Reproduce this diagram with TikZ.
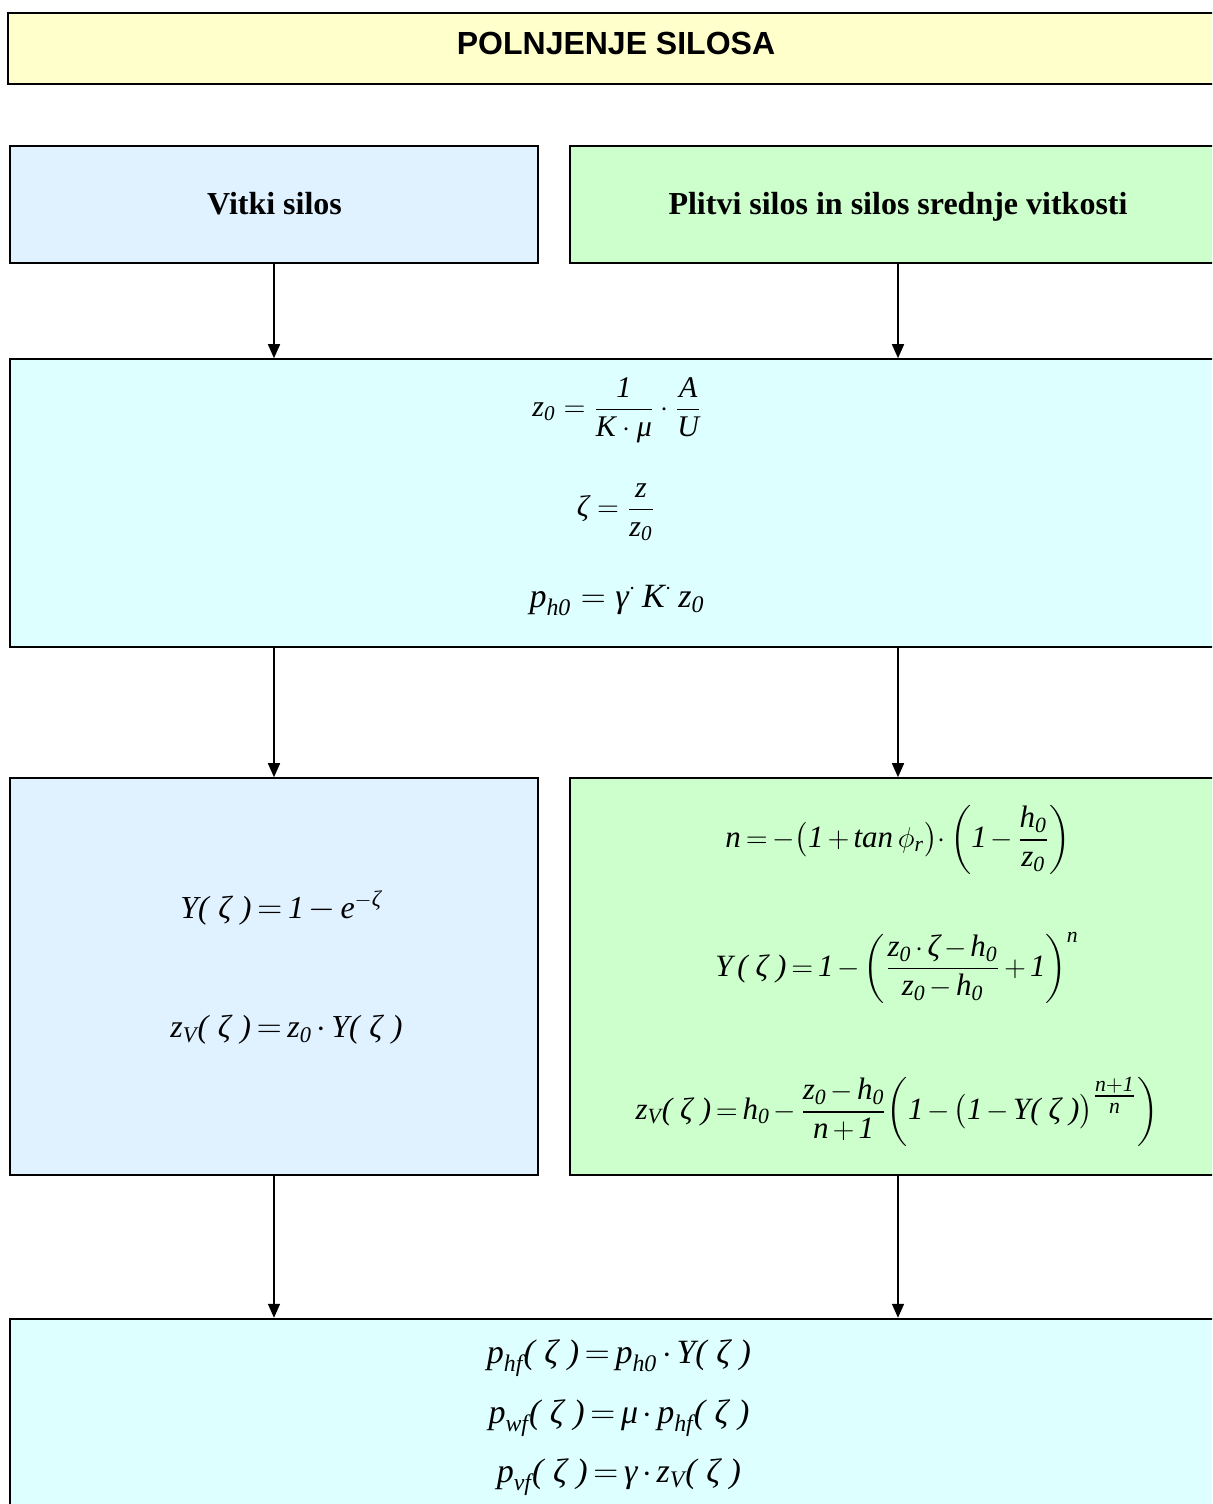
\documentclass[tikz,border=0pt]{standalone}
\usepackage{amsmath}
\usepackage{fontspec}
\setmainfont{Liberation Serif}
\newfontfamily\titlefont{Liberation Sans}
\usetikzlibrary{arrows.meta}
\definecolor{titlefill}{HTML}{FFFFCC}
\definecolor{bluefill}{HTML}{E0F1FF}
\definecolor{greenfill}{HTML}{CCFFCC}
\definecolor{cyanfill}{HTML}{DDFFFF}
\newcommand{\ti}[1]{\textit{#1}}
\newcommand{\zz}{\mkern5mu\ti{ζ}\mkern5mu}
\newcommand{\tightmath}{\thickmuskip=3mu plus 1mu\medmuskip=2.5mu plus 1mu}
\tikzset{
  boxshape/.style={draw=black, line width=0.8pt, rectangle, inner sep=0pt},
  formula/.style={inner sep=0pt, font=\fontsize{15}{18}\selectfont},
  formulaB/.style={inner sep=0pt, font=\fontsize{16}{19}\selectfont\tightmath},
  formulaR/.style={inner sep=0pt, font=\fontsize{15.5}{19}\selectfont\tightmath},
  formulaC/.style={inner sep=0pt, font=\fontsize{17}{20}\selectfont\tightmath},
  head/.style={inner sep=0pt, anchor=base, font=\fontsize{16}{19}\selectfont\bfseries},
  conn/.style={line width=0.8pt, -{Triangle[length=7pt,width=6pt]}}
}
\begin{document}
\begin{tikzpicture}[x=0.5pt,y=-0.5pt]
\useasboundingbox (0,0) rectangle (1212,1504);
\clip (0,0) rectangle (1212,1504);
% boxes
\node[boxshape, fill=titlefill, line width=1pt, minimum width=608.5pt, minimum height=35.5pt] (title) at (616.5,48.5) {};
\node[boxshape, fill=bluefill, minimum width=264pt, minimum height=58.5pt] (vitki) at (274,204.5) {};
\node[boxshape, fill=greenfill, minimum width=328pt, minimum height=58.5pt] (plitvi) at (898,204.5) {};
\node[boxshape, fill=cyanfill, minimum width=608pt, minimum height=144pt] (zbox) at (618,503) {};
\node[boxshape, fill=bluefill, minimum width=264pt, minimum height=198.5pt] (left) at (274,976.5) {};
\node[boxshape, fill=greenfill, minimum width=328pt, minimum height=198.5pt] (right) at (898,976.5) {};
\node[boxshape, fill=cyanfill, line width=1.2pt, minimum width=608pt, minimum height=100.5pt] (bottom) at (618,1419.5) {};
% titles
\node[inner sep=0pt, font=\fontsize{16}{19}\selectfont\titlefont\bfseries] (ttl) at (616,43) {POLNJENJE SILOSA};
\node[head] (vt) at (274.5,214) {Vitki silos};
\node[head] (pt) at (898,214) {Plitvi silos in silos srednje vitkosti};
% formulas
\node[formula] (f1) at (617,410) {$\ti{z}_{\ti{0}} = \dfrac{\ti{1}}{\ti{K}\cdot\ti{μ}}\cdot\dfrac{\ti{A}}{\ti{U}}$};
\node[formula] (f2) at (616,512) {$\ti{ζ} = \dfrac{\ti{z}}{\ti{z}_{\ti{0}}}$};
\node[formula, font=\fontsize{17}{20}\selectfont] (f3) at (617,600) {$\ti{p}_{\ti{h0}} = \ti{γ}^{\cdot}\,\ti{K}^{\cdot}\,\ti{z}_{\ti{0}}$};
\node[formulaB, anchor=west] (f4) at (180,908) {$\ti{Y}\ti{(}\zz\ti{)} = \ti{1} - \ti{e}^{-\ti{ζ}}$};
\node[formulaB, anchor=west] (f5) at (170,1030) {$\ti{z}_{\ti{V}}\ti{(}\zz\ti{)} = \ti{z}_{\ti{0}}\cdot\ti{Y}\ti{(}\zz\ti{)}$};
\node[formulaR] (f6) at (898,840) {$\ti{n} = -\bigl(\ti{1}+\ti{tan}\,\phi_{\ti{r}}\bigr)\mathord{\cdot}\left(\ti{1}-\dfrac{\ti{h}_{\ti{0}}}{\ti{z}_{\ti{0}}}\right)$};
\node[formulaR] (f7) at (897,968) {$\ti{Y}\,\ti{(}\zz\ti{)} = \ti{1}-\left(\dfrac{\ti{z}_{\ti{0}}\cdot\ti{ζ}-\ti{h}_{\ti{0}}}{\ti{z}_{\ti{0}}-\ti{h}_{\ti{0}}}+\ti{1}\right)^{\ti{n}}$};
\node[formulaR] (f8) at (897,1112) {$\ti{z}_{\ti{V}}\ti{(}\zz\ti{)} = \ti{h}_{\ti{0}} - \dfrac{\ti{z}_{\ti{0}}-\ti{h}_{\ti{0}}}{\ti{n}+\ti{1}}\mkern-3mu\left(\ti{1}-\bigl(\ti{1}-\ti{Y}\ti{(}\zz\ti{)}\bigr)^{\genfrac{}{}{}{1}{\ti{n}+\ti{1}}{\ti{n}}}\right)$};
\node[formulaC] (f9) at (619,1358) {$\ti{p}_{\ti{hf}}\ti{(}\zz\ti{)} = \ti{p}_{\ti{h0}}\cdot\ti{Y}\ti{(}\zz\ti{)}$};
\node[formulaC] (f10) at (619,1418) {$\ti{p}_{\ti{wf}}\ti{(}\zz\ti{)} = \ti{μ}\cdot\ti{p}_{\ti{hf}}\ti{(}\zz\ti{)}$};
\node[formulaC] (f11) at (619,1477) {$\ti{p}_{\ti{vf}}\ti{(}\zz\ti{)} = \ti{γ}\cdot\ti{z}_{\ti{V}}\ti{(}\zz\ti{)}$};
% connectors
\draw[conn] (vitki.south) -- (vitki.south |- zbox.north);
\draw[conn] (plitvi.south) -- (plitvi.south |- zbox.north);
\draw[conn] (zbox.south -| vitki.south) -- (left.north);
\draw[conn] (zbox.south -| plitvi.south) -- (right.north);
\draw[conn] (left.south) -- (left.south |- bottom.north);
\draw[conn] (right.south) -- (right.south |- bottom.north);
\end{tikzpicture}
\end{document}
